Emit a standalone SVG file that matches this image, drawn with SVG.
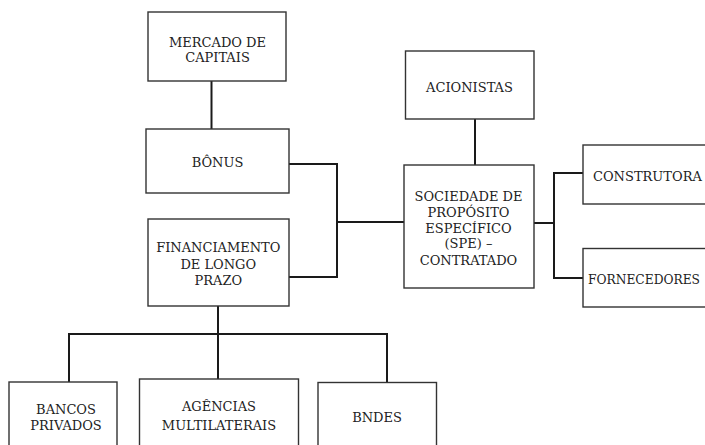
<svg xmlns="http://www.w3.org/2000/svg" width="705" height="445" viewBox="0 0 705 445">
<style>
.box{fill:#fff;stroke:#333;stroke-width:1.4}
.lbl{font-family:"DejaVu Serif","Liberation Serif",serif;font-size:13px;fill:#222;text-anchor:middle}
.st{text-anchor:start}
.con{fill:none;stroke:#1a1a1a;stroke-width:2}
</style>
<rect width="705" height="445" fill="#fff"/>
<g id="connectors" class="con">
<path d="M211.5 81V129"/>
<path d="M289 164H337V277H289"/>
<path d="M337 222H404"/>
<path d="M475 119V165"/>
<path d="M534 223H554"/>
<path d="M583 173H554V278H583"/>
<path d="M218 306V334"/>
<path d="M69 382V334H387V382"/>
<path d="M218 334V379"/>
</g>
<g id="mercado"><rect class="box" x="148" y="12" width="138" height="69"/><text class="lbl" x="217.5" y="46.5">MERCADO DE</text><text class="lbl" x="217.5" y="61.7">CAPITAIS</text></g>
<g id="bonus"><rect class="box" x="146" y="129" width="143" height="64"/><text class="lbl" x="217.5" y="167">BÔNUS</text></g>
<g id="financiamento"><rect class="box" x="148" y="219" width="141" height="87"/><text class="lbl" x="218.3" y="251.7">FINANCIAMENTO</text><text class="lbl" x="218.3" y="268.5">DE LONGO</text><text class="lbl" x="218.3" y="284.5">PRAZO</text></g>
<g id="acionistas"><rect class="box" x="405.5" y="51" width="128.5" height="68"/><text class="lbl" x="469.5" y="91.5">ACIONISTAS</text></g>
<g id="spe"><rect class="box" x="404" y="165" width="130" height="123"/><text class="lbl" x="468.5" y="201">SOCIEDADE DE</text><text class="lbl" x="468.5" y="216.7">PROPÓSITO</text><text class="lbl" x="468.5" y="232.7">ESPECÍFICO</text><text class="lbl" x="468.5" y="248.3">(SPE) –</text><text class="lbl" x="468.5" y="265">CONTRATADO</text></g>
<g id="construtora"><rect class="box" x="583" y="145" width="140" height="59"/><text class="lbl st" x="593" y="180.7">CONSTRUTORA</text></g>
<g id="fornecedores"><rect class="box" x="583" y="248.5" width="140" height="58.5"/><text class="lbl st" x="588" y="284" textLength="112" lengthAdjust="spacingAndGlyphs">FORNECEDORES</text></g>
<g id="bancos"><rect class="box" x="9" y="382" width="108" height="80"/><text class="lbl" x="66" y="414">BANCOS</text><text class="lbl" x="66" y="430">PRIVADOS</text></g>
<g id="agencias"><rect class="box" x="139.5" y="379" width="159" height="80"/><text class="lbl" x="219" y="410.7">AGÊNCIAS</text><text class="lbl" x="219" y="430">MULTILATERAIS</text></g>
<g id="bndes"><rect class="box" x="318" y="382.5" width="118.5" height="80"/><text class="lbl" x="377" y="422">BNDES</text></g>
</svg>
